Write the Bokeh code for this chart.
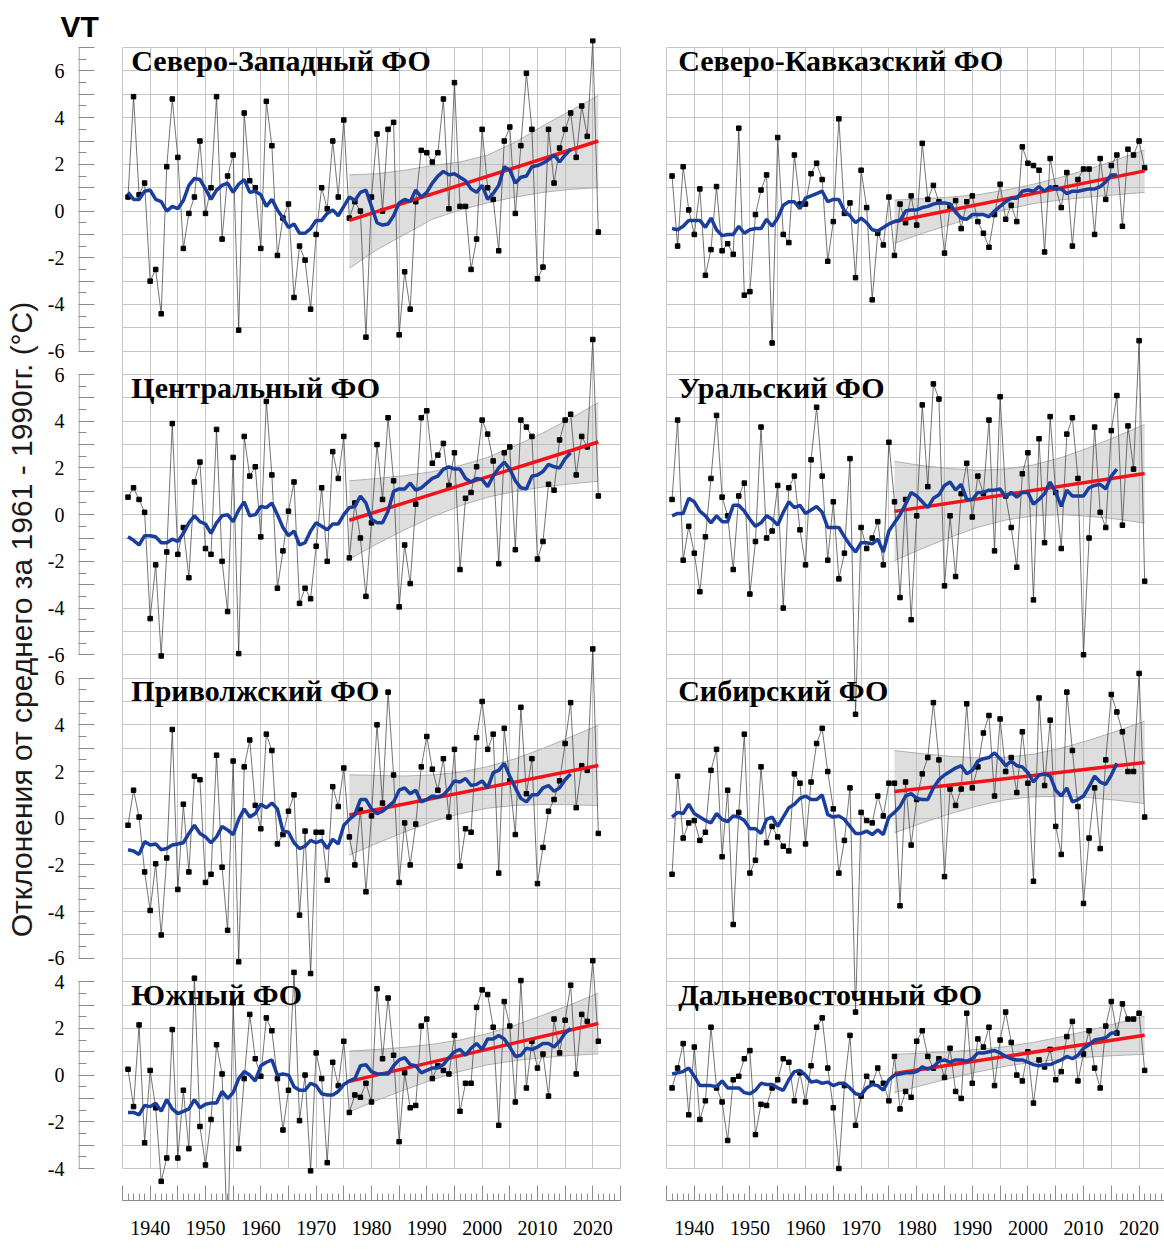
from bokeh.plotting import figure
from bokeh.models import Range1d, FixedTicker, LinearAxis, Grid
from bokeh.layouts import row
from bokeh.embed import file_html
from bokeh.resources import INLINE
from bokeh.core.properties import value

# ---------------- data ----------------
YEARS = list(range(1936, 2022))
MA_YEARS = list(range(1936, 2017))
TREND_YEARS = [1976, 2021]
BAND_YEARS = [1976, 1981, 1986, 1991, 1996, 2001, 2006, 2011, 2016, 2021]
X_MAJOR = list(range(1935, 2026, 5))
X_MINOR = list(range(1935, 2026))
X_LABELS = {y: (str(y) if y % 10 == 0 else "") for y in X_MAJOR}

Y_LABEL = "Отклонения от среднего за 1961 - 1990гг. (°C)"

# Северо-Западный ФО
nw_vals = [0.6, 4.9, 0.7, 1.2, -3.0, -2.5, -4.4, 1.9, 4.8, 2.3,
           -1.6, -0.1, 0.6, 3.0, -0.1, 1.0, 4.9, -1.2, 1.5, 2.4,
           -5.1, 4.2, 1.3, 1.0, -1.6, 4.7, 2.8, -1.9, -0.3, 0.3,
           -3.7, -1.5, -2.1, -4.2, -1.0, 1.0, 0.1, 3.0, 0.6, 3.9,
           -0.3, 0.4, 0.0, -5.4, 0.6, 3.3, 0.0, 3.5, 3.8, -5.3,
           -2.6, -4.2, 0.4, 2.6, 2.5, 2.1, 2.5, 4.8, 0.1, 5.5,
           0.2, 0.2, -2.5, -1.2, 3.5, 1.0, 0.5, -1.7, 3.0, 3.6,
           -0.1, 2.8, 5.9, 3.5, -2.9, -2.4, 3.5, 1.2, 2.7, 3.5,
           4.2, 2.3, 4.5, 3.2, 7.3, -0.9]
nw_ma = [0.8, 0.5, 0.5, 0.85, 0.9, 0.5, 0.4, 0.0, 0.2, 0.1,
         0.45, 1.1, 1.4, 1.35, 0.95, 0.5, 0.9, 1.1, 1.2, 0.8,
         1.15, 1.35, 0.8, 0.85, 0.7, 0.2, 0.5, 0.05, -0.3, -0.7,
         -0.55, -0.95, -0.95, -0.75, -0.4, -0.4, -0.1, 0.05, -0.2, 0.2,
         0.6, 0.45, 0.8, 0.9, 0.2, -0.5, -0.6, -0.55, -0.2, 0.35,
         0.5, 0.4, 0.9, 0.6, 0.8, 1.2, 1.5, 1.7, 1.55, 1.6,
         1.45, 1.3, 0.95, 0.8, 1.1, 0.5, 0.75, 1.1, 1.9, 1.75,
         1.2, 1.45, 1.5, 1.9, 1.95, 2.05, 2.2, 2.4, 2.1, 2.4,
         2.65]
nw_trend = [-0.4, 3.0]
nw_hi = [1.55, 1.6, 1.75, 1.95, 2.1, 2.4, 2.95, 3.65, 4.3, 4.95]
nw_lo = [-2.45, -1.65, -1.0, -0.35, 0.05, 0.35, 0.6, 0.8, 0.93, 1.0]

# Северо-Кавказский ФО
nk_vals = [1.5, -1.5, 1.9, 0.05, -1.0, 0.95, -2.75, -1.65, 1.05, -1.7,
           -1.4, -1.85, 3.55, -3.6, -3.45, -0.15, 0.9, 1.55, -5.65, 3.15,
           -1.0, -1.35, 2.4, 0.3, 0.3, 1.6, 2.05, 1.35, -2.15, -0.45,
           3.95, -0.1, 0.35, -2.85, 1.75, 0.15, -3.8, -0.95, -1.45, 0.6,
           -1.9, 0.3, -0.5, 0.65, -0.6, 2.9, 0.5, 1.1, 0.4, -1.8,
           0.2, 0.45, -0.75, 0.4, 0.65, -0.45, -0.95, -1.55, -0.15, 1.15,
           -0.35, 0.25, -0.45, 2.75, 2.05, 1.95, 1.75, -1.75, 2.25, 1.0,
           0.15, 1.65, -1.5, 1.35, 1.8, 1.8, -1.0, 2.25, 0.5, 1.95,
           2.4, -0.65, 2.65, 2.4, 3.0, 1.85]
nk_ma = [-0.75, -0.8, -0.65, -0.4, -0.4, -0.4, -0.7, -0.3, -0.8, -1.05,
         -1.0, -1.0, -0.65, -0.95, -0.8, -0.75, -0.75, -0.35, -0.65, -0.3,
         0.25, 0.4, 0.4, 0.1, 0.55, 0.65, 0.75, 0.85, 0.4, 0.5,
         0.5, 0.0, -0.2, -0.5, -0.3, -0.5, -0.8, -0.85, -0.7, -0.55,
         -0.45, -0.4, 0.0, 0.05, 0.05, 0.15, 0.2, 0.3, 0.35, 0.35,
         0.3, -0.05, -0.3, -0.35, -0.15, -0.15, -0.15, -0.25, 0.0, 0.2,
         0.4, 0.55, 0.55, 0.85, 0.9, 0.85, 1.05, 0.85, 1.05, 0.95,
         0.95, 0.75, 0.85, 0.85, 0.9, 0.95, 0.95, 1.05, 1.25, 1.55,
         1.55]
nk_trend = [-0.45, 1.72]
nk_hi = [0.47, 0.53, 0.6, 0.7, 0.9, 1.15, 1.45, 1.8, 2.2, 2.62]
nk_lo = [-1.38, -0.96, -0.58, -0.23, 0.06, 0.32, 0.48, 0.6, 0.7, 0.8]

# Центральный ФО
c_vals = [0.75, 1.15, 0.65, 0.1, -4.45, -2.15, -6.05, -1.6, 3.9, -1.7,
          -0.55, -2.7, 1.4, 2.25, -1.45, -1.7, 3.65, -2.0, -4.15, 2.45,
          -5.95, 3.35, 1.65, 2.05, -0.95, 4.85, 1.7, -3.15, -1.55, 0.15,
          1.4, -3.8, -3.15, -3.6, -1.35, 1.15, -2.0, 2.7, 1.55, 3.35,
          -1.85, 0.5, -1.0, -3.5, -0.35, 3.0, 0.65, 4.15, 1.45, -3.95,
          -1.3, -2.95, 0.45, 4.15, 4.45, 2.2, 2.55, 3.05, 1.25, 2.65,
          -2.35, 0.7, 0.95, 2.05, 4.05, 3.45, 2.3, -2.1, 2.65, 2.9,
          -1.5, 4.05, 3.75, 3.35, -1.9, -1.15, 1.3, 1.05, 3.2, 4.05,
          4.3, 1.7, 3.35, 2.9, 7.5, 0.8]
c_ma = [-0.95, -1.1, -1.3, -0.9, -0.9, -0.95, -1.2, -1.2, -1.05, -1.15,
        -0.8, -0.35, -0.05, -0.3, -0.4, -0.8, -0.35, -0.05, 0.0, -0.3,
        0.2, 0.55, -0.05, 0.0, 0.35, 0.3, 0.5, 0.0, -0.55, -0.9,
        -0.7, -1.3, -1.2, -0.7, -0.35, -0.5, -0.65, -0.4, -0.4, 0.0,
        0.3, 0.35, 0.8, 0.5, -0.2, -0.35, -0.35, 0.15, 1.0, 1.1,
        1.1, 1.35, 1.05, 1.15, 1.35, 1.55, 1.65, 1.95, 2.05, 1.95,
        1.95, 1.55, 1.4, 1.55, 1.5, 1.2, 1.65, 2.0, 2.25, 1.95,
        1.45, 1.15, 1.1, 1.65, 1.7, 1.85, 2.15, 2.05, 2.0, 2.4,
        2.65]
c_trend = [-0.24, 3.11]
c_hi = [1.45, 1.55, 1.67, 1.84, 2.1, 2.45, 2.95, 3.5, 4.12, 4.8]
c_lo = [-1.9, -1.25, -0.65, -0.1, 0.38, 0.75, 1.0, 1.18, 1.32, 1.43]

# Уральский ФО
u_vals = [0.65, 4.05, -1.95, -0.5, -1.65, -3.3, -0.95, 1.55, 4.25, 0.75,
          -0.05, -2.35, 0.8, 1.35, -3.4, -1.15, 3.75, -1.0, -0.7, 1.25,
          -4.0, 1.15, 1.65, -0.65, -2.15, 2.35, 4.6, 1.65, -1.95, 0.55,
          -2.75, -1.65, 2.4, -8.55, -0.55, -1.45, -1.0, -0.3, -2.15, 3.1,
          0.55, -3.55, 0.65, -4.5, -0.05, 4.7, 1.2, 5.6, 4.95, -3.05,
          -0.05, -2.65, 0.9, 2.2, -0.1, 1.65, 0.9, 4.05, -1.55, 5.05,
          0.8, -0.55, -2.25, 1.75, 2.65, -3.65, 3.25, -1.2, 4.2, 0.95,
          -1.45, 3.45, 4.15, 1.55, -6.0, -1.0, 3.75, 0.1, -0.55, 3.6,
          5.1, -0.45, 3.8, 1.95, 7.45, -2.85]
u_ma = [-0.05, 0.05, 0.05, 0.7, 0.55, 0.15, -0.05, -0.35, -0.05, -0.3,
        -0.3, 0.4, 0.4, 0.15, -0.2, -0.5, -0.35, -0.05, -0.2, -0.45,
        0.1, 0.55, 0.3, 0.4, 0.05, 0.2, 0.35, 0.1, -0.55, -0.55,
        -0.55, -0.95, -1.3, -1.6, -1.2, -1.2, -1.25, -1.05, -1.6, -0.7,
        -0.35, 0.0, 0.45, 0.95, 0.8, 0.55, 0.3, 0.7, 0.85, 1.25,
        1.4, 1.05, 1.3, 0.65, 0.65, 0.95, 0.95, 1.05, 1.05, 1.1,
        0.75, 0.95, 0.75, 0.95, 0.95, 0.45, 0.65, 0.9, 1.4, 0.95,
        0.35, 1.05, 0.8, 0.8, 0.8, 1.15, 1.25, 1.3, 1.1, 1.65,
        1.95]
u_trend = [0.14, 1.76]
u_hi = [2.28, 2.1, 1.97, 1.9, 1.95, 2.13, 2.44, 2.87, 3.35, 3.86]
u_lo = [-1.97, -1.45, -0.97, -0.54, -0.23, -0.05, 0.0, -0.07, -0.19, -0.36]

# Приволжский ФО
p_vals = [-0.3, 1.2, 0.05, -2.3, -3.95, -1.95, -5.0, -1.7, 3.8, -3.05,
          0.6, -2.3, 1.8, 1.65, -2.75, -2.4, 2.7, -2.1, -4.8, 2.45,
          -6.15, 2.2, 3.35, 0.55, -0.45, 3.6, 2.9, -1.1, -0.7, 0.3,
          1.0, -4.15, -0.55, -6.65, -0.6, -0.6, -2.65, 1.35, 0.5, 2.15,
          -0.8, -2.0, 0.35, -3.15, 0.1, 4.0, 0.65, 5.4, 1.85, -2.75,
          -0.2, -2.0, -0.25, 2.2, 3.5, 2.1, 1.2, 2.55, 0.05, 2.95,
          -2.05, -0.45, -0.6, 3.45, 5.0, 2.95, 3.6, -2.35, 3.85, 1.6,
          -0.7, 4.75, 1.05, 2.55, -2.8, -1.25, 0.3, 0.8, 1.6, 3.2,
          4.95, 0.45, 2.25, 2.05, 7.25, -0.65]
p_ma = [-1.35, -1.4, -1.55, -1.0, -1.15, -1.1, -1.35, -1.3, -1.15, -1.1,
        -1.05, -0.65, -0.3, -0.65, -0.8, -1.05, -0.8, -0.35, -0.5, -0.7,
        -0.05, 0.4, 0.05, 0.2, 0.6, 0.45, 0.65, 0.4, -0.55, -0.6,
        -1.05, -1.3, -1.2, -0.95, -1.05, -0.95, -1.3, -0.9, -1.1, -0.3,
        -0.05, 0.15, 0.8, 0.8, 0.4, 0.2, 0.3, 0.5, 0.7, 1.2,
        1.3, 1.05, 1.2, 0.7, 0.8, 0.95, 0.9, 1.0, 1.25, 1.6,
        1.55, 1.7, 1.4, 1.45, 1.6, 1.3, 1.95, 2.05, 2.35, 1.8,
        1.3, 0.85, 0.7, 1.0, 1.0, 1.3, 1.4, 1.15, 1.3, 1.65,
        1.9]
p_trend = [0.14, 2.26]
p_hi = [1.86, 1.83, 1.81, 1.85, 1.97, 2.21, 2.55, 2.99, 3.48, 3.98]
p_lo = [-1.58, -1.07, -0.59, -0.15, 0.19, 0.43, 0.55, 0.59, 0.58, 0.54]

# Сибирский ФО
s_vals = [-2.4, 1.8, -0.85, -0.2, -0.1, -0.95, -0.6, 2.05, 2.95, -1.65,
          1.2, -4.55, 0.25, 3.6, -2.35, -1.8, 2.2, -1.05, -0.35, -0.8,
          -1.2, -1.4, 1.9, 1.5, -1.1, 1.55, 3.2, 3.85, 2.0, 0.4,
          -2.35, -0.95, 1.3, -8.3, 0.25, -0.1, -0.2, 0.95, 0.1, 1.5,
          1.5, -3.75, 1.55, -1.15, 0.8, 1.9, 2.6, 4.95, 2.5, -2.5,
          1.25, 0.55, 1.25, 4.9, 1.3, 2.2, 3.65, 4.4, 0.95, 4.25,
          2.0, 2.6, 1.1, 3.7, 1.5, -2.7, 5.15, 1.4, 4.2, -0.35,
          -1.55, 5.4, 2.9, 0.5, -3.65, -0.85, 1.3, -1.3, 2.5, 5.3,
          4.55, 3.7, 2.0, 2.0, 6.2, 0.05]
s_ma = [0.05, 0.25, 0.2, 0.6, 0.2, 0.05, -0.1, -0.2, 0.2, -0.05,
        -0.15, 0.1, 0.05, -0.1, -0.45, -0.45, -0.65, -0.05, 0.05, -0.35,
        0.05, 0.45, 0.6, 0.85, 0.95, 0.8, 0.8, 1.0, 0.15, 0.05,
        0.1, -0.05, -0.35, -0.65, -0.65, -0.55, -0.7, -0.5, -0.7, 0.05,
        0.25, 0.5, 0.95, 1.05, 0.85, 0.8, 0.8, 1.3, 1.65, 1.85,
        2.0, 2.15, 2.25, 1.9, 2.05, 2.45, 2.55, 2.6, 2.8, 2.55,
        2.25, 2.45, 2.25, 2.2, 1.95, 1.55, 1.85, 1.9, 1.8, 1.2,
        0.95, 1.3, 0.7, 0.8, 0.95, 1.35, 1.8, 1.55, 1.45, 1.85,
        2.35]
s_trend = [1.14, 2.39]
s_hi = [2.9, 2.76, 2.65, 2.59, 2.61, 2.74, 3.0, 3.34, 3.73, 4.15]
s_lo = [-0.62, -0.2, 0.19, 0.53, 0.79, 0.92, 0.94, 0.88, 0.77, 0.63]

# Южный ФО
y_vals = [0.25, -1.35, 2.15, -2.9, 0.2, -1.4, -4.55, -3.55, 1.95, -3.55,
          -0.65, -3.15, 4.15, -2.2, -3.85, -1.9, 1.3, 0.05, -7.5, 3.1,
          -3.15, -0.15, 2.6, 0.7, -0.05, 2.45, 1.9, -0.15, -2.35, -0.65,
          4.4, -1.95, 0.0, -4.1, 0.95, -0.15, -3.75, 0.55, -0.45, 1.45,
          -1.6, -0.85, -0.95, -0.35, -1.15, 3.7, 0.7, 3.3, 0.85, -2.85,
          0.1, -1.4, -1.3, 2.1, 2.4, -0.15, 0.4, 0.2, 0.05, 1.7,
          -1.55, -0.35, -0.35, 2.9, 3.65, 3.45, 2.05, -2.15, 3.15, 2.1,
          -1.15, 4.05, -0.55, 1.45, 0.3, 0.9, -0.9, 2.4, 0.95, 2.35,
          3.85, 0.05, 2.6, 2.3, 4.9, 1.45]
y_ma = [-1.6, -1.6, -1.7, -1.3, -1.35, -1.2, -1.55, -1.05, -1.45, -1.65,
        -1.55, -1.45, -1.05, -1.4, -1.25, -1.2, -1.2, -0.7, -1.0, -0.75,
        -0.15, 0.15, 0.0, -0.25, 0.4, 0.55, 0.65, 0.0, 0.05, 0.0,
        -0.5, -0.65, -0.65, -0.35, -0.45, -0.8, -0.85, -0.85, -0.7, -0.4,
        -0.25, -0.15, 0.4, 0.45, 0.15, 0.05, 0.05, 0.05, 0.4, 0.65,
        0.75, 0.45, 0.4, 0.1, 0.2, 0.3, 0.3, 0.45, 0.75, 1.0,
        1.1, 0.85, 1.15, 1.35, 1.1, 1.55, 1.55, 1.7, 1.55, 1.2,
        0.8, 0.85, 1.15, 1.1, 1.2, 1.35, 1.35, 1.2, 1.45, 1.8,
        2.0]
y_trend = [-0.27, 2.21]
y_hi = [1.03, 1.1, 1.19, 1.32, 1.5, 1.78, 2.14, 2.57, 3.02, 3.51]
y_lo = [-1.57, -1.08, -0.63, -0.2, 0.16, 0.44, 0.62, 0.75, 0.84, 0.91]

# Дальневосточный ФО
f_vals = [-0.55, 0.3, 1.35, -1.7, 1.2, -1.9, -1.1, 2.05, -0.55, -1.15,
          -2.8, -0.2, -0.05, 0.7, 1.05, -2.55, -1.25, -1.3, -0.55, -0.2,
          0.7, 0.55, -1.1, 0.1, -1.15, 0.4, 2.05, 2.45, 0.3, -1.4,
          -4.0, -0.45, 1.7, -2.15, -0.9, -0.05, -0.35, 0.3, -0.35, -1.1,
          0.8, -1.45, -0.7, -0.95, 1.45, 1.9, 0.8, 0.3, 0.7, -0.1,
          1.15, -0.7, -1.0, 2.65, -0.35, 1.55, 1.2, 2.05, -0.45, 1.5,
          2.7, 1.4, 0.0, -0.25, 1.0, -1.2, 0.65, 0.35, 1.1, -0.2,
          0.15, 1.65, 2.3, -0.25, 0.9, 1.9, 0.3, -0.55, 2.1, 3.15,
          1.8, 3.05, 2.4, 2.4, 2.65, 0.2]
f_ma = [0.05, 0.1, 0.15, 0.3, -0.05, -0.45, -0.45, -0.45, -0.5, -0.25,
        -0.55, -0.55, -0.55, -0.75, -0.8, -0.65, -0.35, -0.4, -0.4, -0.55,
        -0.65, -0.2, 0.15, 0.2, 0.0, -0.3, -0.25, -0.35, -0.3, -0.45,
        -0.35, -0.35, -0.55, -0.8, -0.85, -0.55, -0.4, -0.45, -0.65, -0.2,
        0.0, 0.05, 0.1, 0.1, 0.15, 0.35, 0.25, 0.35, 0.6, 0.65,
        0.55, 0.65, 0.65, 0.6, 0.7, 0.95, 0.95, 1.0, 1.05, 0.95,
        0.8, 0.7, 0.65, 0.65, 0.55, 0.45, 0.4, 0.45, 0.45, 0.55,
        0.65, 0.8, 0.7, 0.85, 1.15, 1.3, 1.5, 1.55, 1.6, 1.8,
        1.8]
f_trend = [0.07, 1.71]
f_hi = [0.89, 0.94, 1.0, 1.1, 1.22, 1.4, 1.64, 1.91, 2.22, 2.53]
f_lo = [-0.75, -0.44, -0.14, 0.14, 0.38, 0.56, 0.68, 0.77, 0.84, 0.89]

# ---------------- layout ----------------
# each column is one figure; the four panels are stacked with a vertical offset
ROWS = [(41, -6, 7), (28, -6, 6), (15, -6, 6), (4, -4, 4)]  # offset, min, max
LEFT = [("Северо-Западный ФО", nw_vals, nw_ma, nw_trend, nw_hi, nw_lo),
        ("Центральный ФО", c_vals, c_ma, c_trend, c_hi, c_lo),
        ("Приволжский ФО", p_vals, p_ma, p_trend, p_hi, p_lo),
        ("Южный ФО", y_vals, y_ma, y_trend, y_hi, y_lo)]
RIGHT = [("Северо-Кавказский ФО", nk_vals, nk_ma, nk_trend, nk_hi, nk_lo),
         ("Уральский ФО", u_vals, u_ma, u_trend, u_hi, u_lo),
         ("Сибирский ФО", s_vals, s_ma, s_trend, s_hi, s_lo),
         ("Дальневосточный ФО", f_vals, f_ma, f_trend, f_hi, f_lo)]

GRID_COLOR = "#c6c6c6"
AXIS_COLOR = "#8c8c8c"
SERIF = "Liberation Serif"


def shift(vals, off):
    return [v + off for v in vals]


def make_column(panels, left):
    if left:
        x0, ppy, frame_w, mbl, mbr = 1927.05, 5.533, 543, 78, 22
        title_x = 1936.6
    else:
        x0, ppy, frame_w, mbl, mbr = 1934.82, 5.56, 499, 22, 0
        title_x = 1937.1
    p = figure(width=mbl + frame_w + mbr, height=1250,
               x_range=Range1d(x0, x0 + frame_w / ppy),
               y_range=Range1d(-1.37, 48.39),
               x_axis_location=None, y_axis_location=None,
               output_backend="svg", toolbar_location=None,
               min_border_left=mbl, min_border_right=mbr,
               min_border_top=38, min_border_bottom=50)
    p.outline_line_color = None
    p.grid.visible = False
    p.background_fill_color = "white"

    p.add_layout(Grid(dimension=0, ticker=FixedTicker(ticks=X_MAJOR),
                      bounds=(1935, 2025), cross_bounds=(0, 48),
                      grid_line_color=GRID_COLOR, grid_line_width=1))
    p.add_layout(Grid(dimension=1, ticker=FixedTicker(ticks=list(range(0, 49))),
                      cross_bounds=(1935, 2025),
                      grid_line_color=GRID_COLOR, grid_line_width=1))

    xaxis = LinearAxis(ticker=FixedTicker(ticks=X_MAJOR, minor_ticks=X_MINOR),
                       major_label_overrides=X_LABELS, bounds=(1935, 2025),
                       axis_line_color=AXIS_COLOR, major_tick_line_color=AXIS_COLOR,
                       minor_tick_line_color=AXIS_COLOR,
                       major_tick_in=15, major_tick_out=0,
                       minor_tick_in=7, minor_tick_out=0,
                       major_label_standoff=20,
                       major_label_text_font=SERIF,
                       major_label_text_font_size="20px",
                       major_label_text_color="black")
    p.add_layout(xaxis, "below")

    if left:
        maj, mino, labs = [], [], {}
        for off, lo, hi in ROWS:
            for v in range(lo, hi + 1):
                maj.append(v + off)
                labs[v + off] = str(v) if v % 2 == 0 else ""
            for v in range(lo, hi):
                mino.append(v + off + 0.5)
        yaxis = LinearAxis(ticker=FixedTicker(ticks=maj, minor_ticks=mino),
                           major_label_overrides=labs, bounds=(0, 48),
                           axis_line_color=None, major_tick_line_color=AXIS_COLOR,
                           minor_tick_line_color=AXIS_COLOR,
                           major_tick_in=16, major_tick_out=0,
                           minor_tick_in=8, minor_tick_out=0,
                           major_label_standoff=14,
                           major_label_text_font=SERIF,
                           major_label_text_font_size="20px",
                           major_label_text_color="black",
                           axis_label=Y_LABEL, axis_label_standoff=7,
                           axis_label_text_font="Liberation Sans",
                           axis_label_text_font_style="normal",
                           axis_label_text_font_size="30px",
                           axis_label_text_color="#1a1a1a")
        p.add_layout(yaxis, "left")
        # separate axis line for every panel row (gaps between the rows)
        ax_x = x0 + 0.1
        p.segment(x0=[ax_x] * len(ROWS), x1=[ax_x] * len(ROWS),
                  y0=[lo + off for off, lo, hi in ROWS],
                  y1=[hi + off for off, lo, hi in ROWS],
                  line_color=AXIS_COLOR, line_width=1)

    for (title, vals, ma, trend, hi, lo), (off, vmin, vmax) in zip(panels, ROWS):
        p.text(x=[title_x], y=[vmax - 0.55 + off], text=[title],
               text_font=value(SERIF), text_font_style="bold",
               text_font_size="30px", text_baseline="middle",
               text_color="black")
        p.varea(x=BAND_YEARS, y1=shift(lo, off), y2=shift(hi, off),
                fill_color="#b0b0b0", fill_alpha=0.42)
        p.line(BAND_YEARS, shift(hi, off), line_color="#a0a0a0", line_width=0.8)
        p.line(BAND_YEARS, shift(lo, off), line_color="#a0a0a0", line_width=0.8)
        p.line(YEARS, shift(vals, off), line_color="#3a3a3a", line_width=0.7)
        p.scatter(YEARS, shift(vals, off), marker="square", size=4.5,
                  fill_color="black", line_color="black")
        p.line(TREND_YEARS, shift(trend, off), line_color="#f2131a", line_width=3.5)
        p.line(MA_YEARS, shift(ma, off), line_color="#1a3e9c", line_width=3.5)
    return p


left_fig = make_column(LEFT, True)
right_fig = make_column(RIGHT, False)

left_fig.title.text = "VT"
left_fig.title.text_font = "Liberation Sans"
left_fig.title.text_font_style = "bold"
left_fig.title.text_font_size = "30px"
left_fig.title.text_color = "black"
left_fig.title.align = "left"
left_fig.title.offset = -18
left_fig.title.standoff = -8

layout = row(left_fig, right_fig)
open("out.html", "w").write(file_html(layout, INLINE))
